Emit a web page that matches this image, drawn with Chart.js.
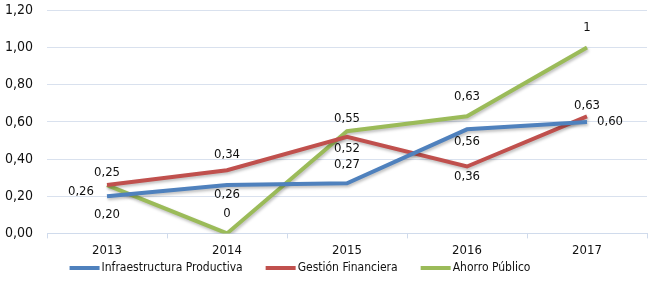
<!DOCTYPE html>
<html>
<head>
<meta charset="utf-8">
<script src="https://cdn.jsdelivr.net/npm/chart.js@4/dist/chart.umd.min.js"></script>
<style>
  html, body { margin: 0; padding: 0; background: #fff; }
  #wrap { width: 653px; height: 286px; }
</style>
</head>
<body>
<div id="wrap"><canvas id="myChart"></canvas></div>
<script>
const years = ['2013', '2014', '2015', '2016', '2017'];
const infraestructura = [0.20, 0.26, 0.27, 0.56, 0.60];
const gestion = [0.26, 0.34, 0.52, 0.36, 0.63];
const ahorro = [0.26, 0, 0.55, 0.63, 1];
// texts printed next to each point, as in the source
const infraLabels = ['0,20', '0,26', '0,27', '0,56', '0,60'];
const gestionLabels = ['0,25', '0,34', '0,52', '0,36', '0,63'];
const ahorroLabels = ['0,26', '0', '0,55', '0,63', '1'];

// label placement (dx, dy in px from the point), kept apart from the data
const labelOffsets = [
    [[0, 18], [0, 10], [0, -19], [0, 12], [10, 0]],
    [[0, -12], [0, -16], [0, 12], [0, 10], [0, -11]],
    [[-13, 7], [0, -20], [0, -13], [0, -20], [0, -20]]
];

const FONT = "'DejaVu Sans Condensed', 'Liberation Sans Narrow', sans-serif";

const pointLabels = {
    id: 'pointLabels',
    afterDatasetsDraw(chart) {
        const ctx = chart.ctx;
        ctx.save();
        ctx.font = '13px ' + FONT;
        ctx.fillStyle = '#111';
        ctx.textBaseline = 'middle';
        chart.data.datasets.forEach((ds, i) => {
            chart.getDatasetMeta(i).data.forEach((pt, j) => {
                const off = labelOffsets[i][j];
                ctx.textAlign = off[0] > 0 ? 'left' : (off[0] < 0 ? 'right' : 'center');
                ctx.fillText(ds.labelText[j], pt.x + off[0], pt.y + off[1]);
            });
        });
        ctx.restore();
    }
};

const lineShadow = {
    id: 'lineShadow',
    beforeDatasetsDraw(chart) {
        chart.ctx.save();
        chart.ctx.shadowColor = 'rgba(0,0,0,0.25)';
        chart.ctx.shadowBlur = 3;
        chart.ctx.shadowOffsetX = 1;
        chart.ctx.shadowOffsetY = 2;
    },
    afterDatasetsDraw(chart) {
        chart.ctx.restore();
    }
};

// legend drawn under the axis, slightly left of centre like the source
const bottomLegend = {
    id: 'bottomLegend',
    afterDraw(chart) {
        const ctx = chart.ctx;
        ctx.save();
        ctx.font = '12px ' + FONT;
        ctx.textBaseline = 'middle';
        ctx.textAlign = 'left';
        const lineW = 30, textGap = 2, itemGap = 23;
        const items = chart.data.datasets.map(ds => ({
            text: ds.label, color: ds.borderColor, w: ctx.measureText(ds.label).width
        }));
        const total = items.reduce((s, it) => s + lineW + textGap + it.w, 0) + itemGap * (items.length - 1);
        let x = 300 - total / 2;
        const y = 268;
        items.forEach(it => {
            ctx.strokeStyle = it.color;
            ctx.lineWidth = 4;
            ctx.beginPath();
            ctx.moveTo(x, y);
            ctx.lineTo(x + lineW, y);
            ctx.stroke();
            ctx.fillStyle = '#111';
            ctx.fillText(it.text, x + lineW + textGap, y);
            x += lineW + textGap + it.w + itemGap;
        });
        ctx.restore();
    }
};

window.addEventListener('load', () => {
    const ctx = document.getElementById('myChart').getContext('2d');
    new Chart(ctx, {
        type: 'line',
        data: {
            labels: years,
            datasets: [{
                label: 'Infraestructura Productiva',
                data: infraestructura,
                borderColor: '#4f81bd',
                labelText: infraLabels
            }, {
                label: 'Gestión Financiera',
                data: gestion,
                borderColor: '#c0504d',
                labelText: gestionLabels
            }, {
                label: 'Ahorro Público',
                data: ahorro,
                borderColor: '#9bbb59',
                labelText: ahorroLabels
            }]
        },
        options: {
            responsive: true,
            maintainAspectRatio: false,
            animation: false,
            layout: { padding: { left: 5, right: 6, top: 1, bottom: 24 } },
            elements: {
                line: { borderWidth: 4, tension: 0 },
                point: { radius: 0 }
            },
            plugins: {
                tooltip: { enabled: false },
                legend: { display: false }
            },
            scales: {
                x: {
                    offset: true,
                    grid: {
                        offset: true,
                        drawOnChartArea: false,
                        drawTicks: true,
                        tickLength: 5,
                        color: '#d0dbec'
                    },
                    border: { color: '#d0dbec' },
                    ticks: {
                        font: { family: FONT, size: 13 },
                        color: '#111',
                        padding: 4
                    }
                },
                y: {
                    min: 0,
                    max: 1.2,
                    afterFit: scale => { scale.width = 42; },
                    grid: { color: '#d9e1ee', drawTicks: false },
                    border: { display: false },
                    ticks: {
                        stepSize: 0.2,
                        padding: 2,
                        crossAlign: 'far',
                        font: { family: FONT, size: 14 },
                        color: '#111',
                        callback: v => v.toFixed(2).replace('.', ',')
                    }
                }
            }
        },
        plugins: [lineShadow, pointLabels, bottomLegend]
    });
});
</script>
</body>
</html>
